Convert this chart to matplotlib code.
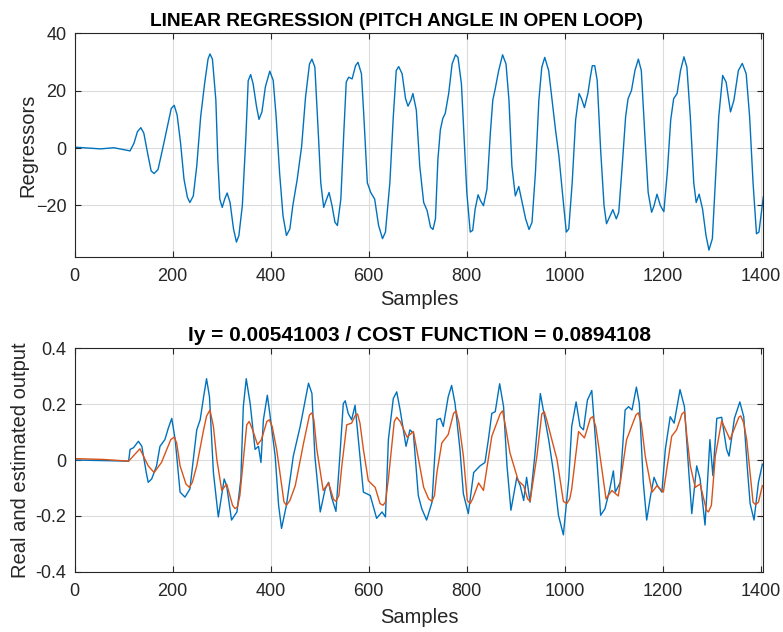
import matplotlib
matplotlib.use('Agg')
import matplotlib.pyplot as plt

plt.rcParams['font.family'] = ['Liberation Sans', 'DejaVu Sans']

# --- regressors (top plot) at key points ---
reg_samples = [0, 26, 53, 80, 101, 113, 121, 128, 135, 141, 150, 156, 162, 170, 179, 189, 197, 203, 209, 216,
               223, 230, 235, 242, 249, 257, 265, 272, 276, 281, 288, 292, 296, 301, 306, 311, 317, 324, 330, 335,
               342, 349, 354, 359, 364, 371, 376, 382, 389, 398, 405, 411, 418, 425, 432, 439, 445, 454, 463, 471,
               479, 484, 490, 497, 502, 508, 514, 519, 525, 531, 536, 543, 549, 554, 559, 566, 573, 578, 585, 590,
               597, 604, 612, 620, 628, 634, 643, 650, 656, 661, 668, 675, 680, 686, 690, 697, 704, 712, 719, 726,
               731, 736, 741, 746, 751, 756, 763, 770, 777, 782, 789, 794, 800, 807, 812, 817, 823, 828, 834, 841,
               848, 853, 858, 865, 873, 880, 886, 892, 899, 906, 913, 920, 927, 933, 940, 947, 953, 959, 967, 974,
               981, 988, 995, 1003, 1008, 1015, 1022, 1029, 1034, 1040, 1047, 1052, 1056, 1061, 1066, 1073, 1080,
               1085, 1091, 1098, 1105, 1110, 1117, 1124, 1129, 1136, 1143, 1150, 1156, 1163, 1170, 1177, 1182, 1188,
               1195, 1202, 1209, 1216, 1222, 1229, 1236, 1243, 1249, 1256, 1263, 1268, 1274, 1281, 1288, 1294, 1301,
               1307, 1314, 1322, 1329, 1338, 1345, 1354, 1362, 1370, 1377, 1384, 1391, 1396, 1401, 1405]
reg_values = [0.3, 0, -0.3, 0.1, -0.6, -1.0, 1.7, 5.7, 7.1, 5.2, -2.9, -8.0, -8.9, -7.5, -0.6, 7.5, 13.8, 14.9,
              11.5, 1.7, -10.9, -17.2, -19, -16.7, -6.3, 10.9, 22.4, 31, 32.8, 31, 16.7, -4.0, -17.8, -20.7, -17.8,
              -15.7, -19, -28.2, -32.8, -30.5, -20.1, 2.9, 23.5, 25.6, 22.4, 14.4, 10, 12.6, 21.3, 26.8, 23.6, 10.9,
              -8.6, -23.6, -30.5, -28.2, -20.1, -10.9, 0.6, 17.8, 29.3, 31, 28.2, 5.2, -12.1, -20.7, -17.8, -15.5,
              -20.1, -25.9, -27, -17.8, 5.2, 23, 24.7, 24.1, 28.7, 29.9, 25.9, 10.9, -12.1, -15.5, -17.8, -27, -31.6,
              -29.3, -12.1, 10.9, 27, 28.4, 25.9, 17.2, 14.6, 16.7, 19, 13.2, -6.3, -19, -21.8, -27.6, -28.4, -24.7,
              -4, 6.3, 10.3, 12.1, 19, 29.3, 32.5, 31.6, 22.4, 5.2, -15.5, -29.3, -28.7, -21.3, -16.3, -18.4, -20.1,
              -14.4, 5.2, 16.7, 20.7, 27, 32.5, 29.3, 16.7, -6.3, -16.7, -13.4, -19, -24.7, -28.4, -25.9, -8.6, 16.7,
              28.2, 31.6, 27, 16.7, 6.3, -2.9, -15.5, -29.3, -28.2, -12.1, 9.8, 19, 17.2, 14.1, 19, 24.7, 28.7, 28.7,
              23.6, -0.6, -20.1, -26.4, -24.1, -21.5, -24.7, -22.4, -6.3, 10.9, 17.2, 20.1, 27, 31, 27, 5.2, -15.5,
              -22.4, -20.1, -16.1, -20.1, -22.2, -8.6, 9.8, 17.2, 19, 27, 31.8, 28.2, 10.9, -12.1, -19, -16.1,
              -21.3, -30.5, -35.6, -31.6, -12.1, 10.9, 25.3, 23, 12.6, 16.7, 27, 29.5, 25.9, 10.9, -12.1, -29.9,
              -29.3, -22.4, -17]

# --- real output (blue, bottom plot) ---
real_samples = [0, 58, 110, 113, 120, 130, 137, 146, 150, 157, 167, 174, 184, 191, 198, 205, 215, 225, 235, 249,
                256, 263, 269, 275, 283, 293, 305, 310, 320, 331, 339, 344, 350, 358, 368, 375, 380, 385, 393, 398,
                409, 416, 422, 432, 446, 460, 477, 484, 490, 501, 511, 518, 524, 533, 541, 548, 552, 558, 565, 572,
                582, 589, 603, 616, 627, 634, 640, 650, 657, 664, 676, 684, 691, 701, 708, 718, 729, 739, 746, 752,
                762, 769, 776, 786, 793, 803, 814, 827, 837, 844, 851, 858, 867, 875, 882, 890, 902, 909, 916, 922,
                929, 939, 950, 956, 967, 977, 987, 997, 1008, 1014, 1023, 1031, 1038, 1046, 1055, 1064, 1073, 1082,
                1091, 1099, 1103, 1113, 1123, 1130, 1137, 1146, 1152, 1160, 1167, 1175, 1182, 1189, 1198, 1205, 1215,
                1223, 1235, 1244, 1253, 1259, 1269, 1276, 1286, 1296, 1302, 1310, 1320, 1330, 1335, 1346, 1357, 1365,
                1372, 1378, 1386, 1395, 1403]
real_values = [0, -0.002, -0.004, 0.038, 0.044, 0.067, 0.049, -0.045, -0.08, -0.068, -0.021, 0.049, 0.073, 0.114,
               0.149, 0.073, -0.115, -0.133, -0.104, 0.108, 0.144, 0.226, 0.291, 0.226, -0.045, -0.204, -0.068,
               -0.092, -0.215, -0.186, -0.068, 0.191, 0.291, 0.202, 0.038, 0.049, -0.009, 0.144, 0.232, 0.167, 0.014,
               -0.162, -0.245, -0.162, 0.014, 0.12, 0.275, 0.238, 0.014, -0.186, -0.104, -0.08, -0.133, -0.184, 0.014,
               0.202, 0.212, 0.167, 0.144, 0.196, 0.014, -0.115, -0.127, -0.209, -0.186, -0.204, 0.073, 0.22, 0.244,
               0.179, 0.049, 0.108, 0.096, -0.127, -0.174, -0.215, -0.151, 0.144, 0.149, 0.12, 0.226, 0.267, 0.202,
               0.038, -0.121, -0.192, -0.045, -0.021, -0.009, 0.073, 0.167, 0.173, 0.273, 0.191, -0.021, -0.18,
               -0.062, -0.092, -0.145, -0.062, -0.151, 0.02, 0.238, 0.179, 0.073, -0.045, -0.198, -0.268, -0.068,
               0.12, 0.208, 0.12, 0.108, 0.214, 0.249, 0.038, -0.198, -0.174, -0.109, -0.039, -0.115, -0.08, 0.179,
               0.191, 0.179, 0.261, 0.202, -0.08, -0.215, -0.127, -0.062, -0.092, -0.115, 0.038, 0.155, 0.132, 0.252,
               0.191, -0.045, -0.192, -0.021, -0.068, -0.233, 0.073, -0.056, 0.149, 0.153, 0.038, 0.014, 0.149, 0.208,
               0.155, -0.021, -0.156, -0.215, -0.08, -0.015]

# --- estimated output (orange, bottom plot) ---
est_samples = [0, 58, 110, 133, 150, 162, 177, 196, 203, 208, 215, 227, 234, 240, 249, 263, 269, 276, 283, 290,
               300, 310, 322, 327, 332, 337, 351, 356, 363, 373, 381, 392, 397, 403, 412, 427, 432, 439, 450, 467,
               479, 484, 488, 494, 507, 518, 528, 533, 539, 545, 555, 565, 572, 577, 582, 589, 599, 613, 623, 629,
               634, 640, 652, 657, 664, 678, 691, 712, 722, 729, 734, 739, 749, 762, 773, 778, 784, 793, 801, 807,
               812, 824, 834, 851, 868, 873, 879, 888, 905, 916, 924, 929, 943, 953, 958, 963, 970, 984, 997, 1004,
               1010, 1014, 1028, 1040, 1052, 1057, 1063, 1069, 1084, 1096, 1109, 1126, 1145, 1150, 1156, 1164, 1178,
               1188, 1201, 1218, 1228, 1239, 1244, 1249, 1256, 1266, 1276, 1289, 1293, 1299, 1307, 1320, 1337, 1355,
               1359, 1365, 1371, 1384, 1389, 1395, 1403]
est_values = [0.005, 0.002, -0.004, 0.04, -0.021, -0.045, -0.009, 0.073, 0.082, 0.061, -0.021, -0.086, -0.098,
              -0.08, -0.021, 0.108, 0.157, 0.179, 0.12, 0.002, -0.109, -0.086, -0.162, -0.174, -0.168, -0.127, 0.126,
              0.138, 0.108, 0.055, 0.073, 0.138, 0.144, 0.12, 0.038, -0.15, -0.162, -0.145, -0.092, 0.061, 0.161,
              0.169, 0.144, 0.038, -0.109, -0.082, -0.141, -0.148, -0.127, -0.021, 0.126, 0.132, 0.158, 0.165, 0.132,
              0.038, -0.074, -0.098, -0.156, -0.162, -0.151, -0.068, 0.138, 0.153, 0.138, 0.082, 0.102, -0.098,
              -0.139, -0.148, -0.127, -0.045, 0.061, 0.091, 0.167, 0.176, 0.132, 0.014, -0.145, -0.156, -0.139,
              -0.082, -0.109, 0.085, 0.165, 0.176, 0.12, 0.026, -0.074, -0.092, -0.139, -0.148, 0.014, 0.165, 0.173,
              0.144, 0.096, 0.002, -0.148, -0.156, -0.139, -0.104, 0.102, 0.079, 0.149, 0.155, 0.12, 0.049, -0.139,
              -0.109, -0.129, 0.073, 0.161, 0.169, 0.132, 0.014, -0.115, -0.092, -0.115, 0.085, 0.108, 0.165, 0.173,
              0.085, -0.021, -0.098, -0.086, -0.18, -0.186, -0.162, 0.014, 0.14, 0.073, 0.153, 0.158, 0.132, 0.073,
              -0.151, -0.16, -0.151, -0.092]

x_ticks = [0, 200, 400, 600, 800, 1000, 1200, 1400]

BLUE = '#0072BD'
ORANGE = '#D95319'
DARK = '#262626'

fig = plt.figure(figsize=(7.83, 6.32), dpi=100)
ax1 = fig.add_axes([0.0954, 0.5938, 0.8795, 0.3535])
ax2 = fig.add_axes([0.0954, 0.0954, 0.8795, 0.3535])


def matlab_style(ax):
    ax.grid(True, color='#dcdcdc', linewidth=0.8)
    ax.set_axisbelow(True)
    ax.tick_params(direction='in', top=True, right=True, length=4, width=0.8,
                   colors=DARK, labelsize=13)
    ax.tick_params(axis='x', pad=8)
    ax.tick_params(axis='y', pad=6)
    for s in ax.spines.values():
        s.set_color(DARK)
        s.set_linewidth(0.8)
    ax.set_xticks(x_ticks)
    ax.set_xlim(0, 1405)


ax1.plot(reg_samples, reg_values, color=BLUE, linewidth=1.0)
matlab_style(ax1)
ax1.set_ylim(-37.9, 40)
ax1.set_yticks([-20, 0, 20, 40])
# the original title sits a little left of the axes centre
ax1.set_title('LINEAR REGRESSION (PITCH ANGLE IN OPEN LOOP)', fontsize=13.8, fontweight='bold', pad=5, x=0.468)
ax1.set_xlabel('Samples', fontsize=14.5, color=DARK, labelpad=4)
ax1.set_ylabel('Regressors', fontsize=14.5, color=DARK, labelpad=-1)

ax2.plot(real_samples, real_values, color=BLUE, linewidth=1.0)
ax2.plot(est_samples, est_values, color=ORANGE, linewidth=1.0)
matlab_style(ax2)
ax2.set_ylim(-0.4, 0.4)
ax2.set_yticks([-0.4, -0.2, 0, 0.2, 0.4])
ax2.set_yticklabels(['-0.4', '-0.2', '0', '0.2', '0.4'])
ax2.set_title('Iy = 0.00541003 / COST FUNCTION = 0.0894108', fontsize=15, fontweight='bold', pad=5)
ax2.set_xlabel('Samples', fontsize=14.5, color=DARK, labelpad=6)
ax2.set_ylabel('Real and estimated output', fontsize=14.5, color=DARK, labelpad=4)

fig.savefig('out.png', dpi=100)
